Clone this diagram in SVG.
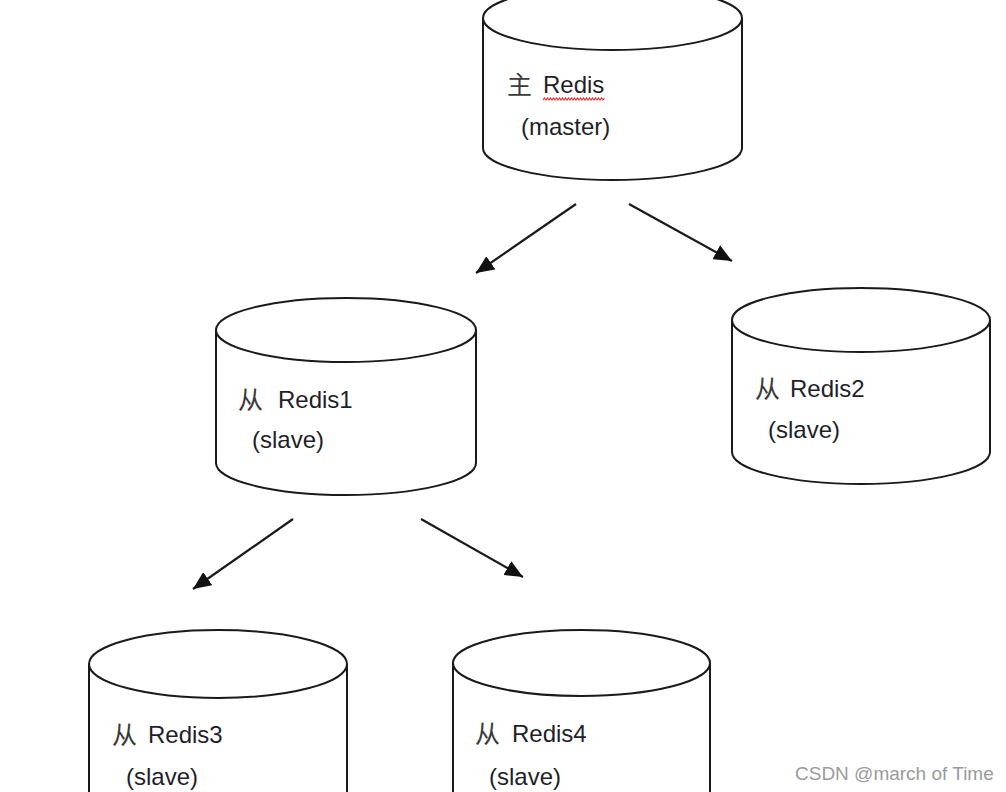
<svg xmlns="http://www.w3.org/2000/svg" width="1006" height="792" viewBox="0 0 1006 792">
<defs>
<style>
.cyl{fill:#ffffff;stroke:#1a1a1a;stroke-width:2}
.lbl{font-family:"Liberation Sans","Noto Sans CJK SC",sans-serif;font-size:24px;fill:#1f1f2a}
.cjk{font-family:"Noto Sans CJK SC",sans-serif;font-size:25px;font-weight:400;fill:#3a3a3a}
.edge{stroke:#1a1a1a;stroke-width:2.2;fill:none;marker-end:url(#arr)}
.wm{font-family:"Liberation Sans",sans-serif;font-size:19px;fill:#9a9a9a}
</style>
<marker id="arr" markerUnits="userSpaceOnUse" markerWidth="20" markerHeight="16" refX="18" refY="8" orient="auto">
<path d="M0,0 L18,8 L0,16 z" fill="#111"/>
</marker>
</defs>
<rect width="1006" height="792" fill="#ffffff"/>

<g id="master">
<path class="cyl" d="M483,18 L483,148 A129.5,32 0 0 0 742,148 L742,18"/>
<ellipse class="cyl" cx="612.5" cy="18" rx="129.5" ry="32"/>
<text class="cjk" x="507" y="94">主</text>
<text class="lbl" x="543" y="93">Redis</text>
<path d="M543,100 l1.5,-2 l1.5,2 l1.5,-2 l1.5,2 l1.5,-2 l1.5,2 l1.5,-2 l1.5,2 l1.5,-2 l1.5,2 l1.5,-2 l1.5,2 l1.5,-2 l1.5,2 l1.5,-2 l1.5,2 l1.5,-2 l1.5,2 l1.5,-2 l1.5,2 l1.5,-2 l1.5,2 l1.5,-2 l1.5,2 l1.5,-2 l1.5,2 l1.5,-2 l1.5,2 l1.5,-2 l1.5,2 l1.5,-2 l1.5,2 l1.5,-2 l1.5,2 l1.5,-2 l1.5,2 l1.5,-2 l1.5,2 l1.5,-2 l1.5,2 l1.5,-2" fill="none" stroke="#e03030" stroke-width="1.2"/>
<text class="lbl" x="521" y="135">(master)</text>
</g>

<g id="slave1">
<path class="cyl" d="M216,330 L216,463 A130,32 0 0 0 476,463 L476,330"/>
<ellipse class="cyl" cx="346" cy="330" rx="130" ry="32"/>
<text class="cjk" x="238" y="409">从</text>
<text class="lbl" x="278" y="408">Redis1</text>
<text class="lbl" x="252" y="448">(slave)</text>
</g>

<g id="slave2">
<path class="cyl" d="M732,320 L732,452 A129,32 0 0 0 990,452 L990,320"/>
<ellipse class="cyl" cx="861" cy="320" rx="129" ry="32"/>
<text class="cjk" x="755" y="398">从</text>
<text class="lbl" x="790" y="397">Redis2</text>
<text class="lbl" x="768" y="438">(slave)</text>
</g>

<g id="slave3">
<path class="cyl" d="M89,664 L89,800 M347,800 L347,664"/>
<ellipse class="cyl" cx="218" cy="664" rx="129" ry="34"/>
<text class="cjk" x="112" y="744">从</text>
<text class="lbl" x="148" y="743">Redis3</text>
<text class="lbl" x="126" y="785">(slave)</text>
</g>

<g id="slave4">
<path class="cyl" d="M453,663 L453,800 M710,800 L710,663"/>
<ellipse class="cyl" cx="581.5" cy="663" rx="128.5" ry="33"/>
<text class="cjk" x="475" y="743">从</text>
<text class="lbl" x="512" y="742">Redis4</text>
<text class="lbl" x="489" y="785">(slave)</text>
</g>

<g id="connectors">
<line class="edge" x1="576" y1="204" x2="476" y2="273"/>
<line class="edge" x1="629" y1="204" x2="732" y2="261"/>
<line class="edge" x1="293" y1="519" x2="193" y2="589"/>
<line class="edge" x1="421" y1="519" x2="523" y2="577"/>
</g>

<text class="wm" x="795" y="780">CSDN @march of Time</text>
</svg>
